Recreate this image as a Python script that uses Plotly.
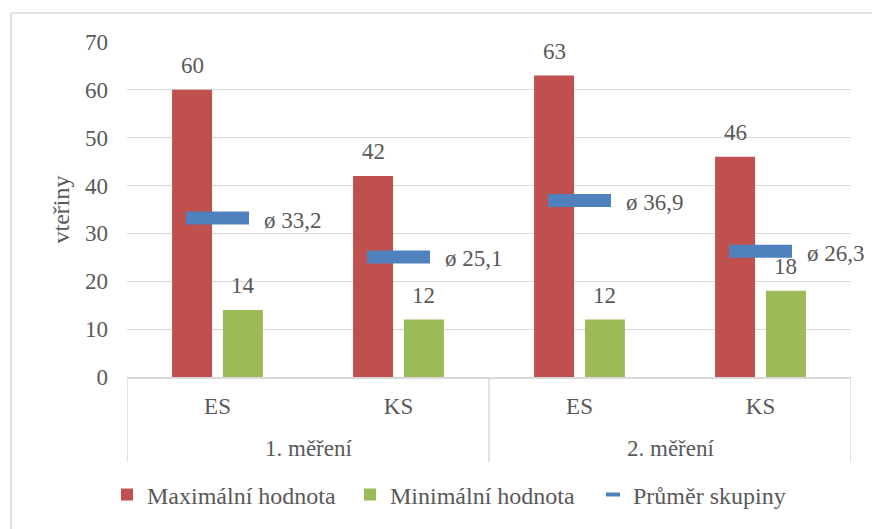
import plotly.graph_objects as go

# Data
groups = ["1. měření", "2. měření"]
categories = ["ES", "KS", "ES", "KS"]
max_values = [60, 42, 63, 46]
min_values = [14, 12, 12, 18]
group_means = [33.2, 25.1, 36.9, 26.3]
y_ticks = [0, 10, 20, 30, 40, 50, 60, 70]

# Canvas / plot-area geometry (pixels)
W, H = 872, 529
L, R, T, B = 127, 21, 42, 152
PW, PH = W - L - R, H - T - B

FONT = "Liberation Serif"
TXT = "#595959"
GRID = "#D9D9D9"
RED = "#C0504D"
GREEN = "#9BBB59"
BLUE = "#4F81BD"

BAR_W = 0.221
RED_OFF = -0.251
GREEN_OFF = 0.030


def px_x(p):
    return (p - L) / PW


def px_y(p):
    return (H - B - p) / PH


def fmt(v):
    return ("%g" % v).replace(".", ",")


xs = list(range(len(categories)))

fig = go.Figure()
fig.add_trace(go.Bar(
    x=xs, y=max_values, name="Maximální hodnota",
    marker=dict(color=RED, line=dict(width=0)),
    width=BAR_W, offset=RED_OFF,
))
fig.add_trace(go.Bar(
    x=xs, y=min_values, name="Minimální hodnota",
    marker=dict(color=GREEN, line=dict(width=0)),
    width=BAR_W, offset=GREEN_OFF,
))
# group means drawn as short horizontal dashes
fig.add_trace(go.Scatter(
    x=xs, y=group_means, name="Průměr skupiny", mode="markers",
    showlegend=False, legendgroup="mean",
    marker=dict(symbol="line-ew", size=45, color=BLUE,
                line=dict(color=BLUE, width=13)),
))
# slimmer key for the legend
fig.add_trace(go.Scatter(
    x=[None], y=[None], name="Průměr skupiny", mode="markers",
    legendgroup="mean",
    marker=dict(symbol="line-ew", size=10, color=BLUE,
                line=dict(color=BLUE, width=4)),
))

annotations = []
# value labels above the bars
for i in xs:
    for vals, off in ((max_values, RED_OFF), (min_values, GREEN_OFF)):
        annotations.append(dict(
            x=i + off + BAR_W / 2, y=vals[i], xref="x", yref="y",
            text=fmt(vals[i]), showarrow=False, yanchor="bottom",
            yshift=10, font=dict(family=FONT, size=23, color=TXT),
        ))
    # mean labels to the right of the mean markers
    annotations.append(dict(
        x=i + 0.251, y=group_means[i], xref="x", yref="y",
        text="ø " + fmt(group_means[i]), showarrow=False,
        xanchor="left", yanchor="middle", yshift=-2, borderpad=0,
        font=dict(family=FONT, size=23, color=TXT),
    ))

# group labels below the category labels
for g, name in enumerate(groups):
    annotations.append(dict(
        x=2 * g + 0.5, y=px_y(448), xref="x", yref="paper",
        text=name, showarrow=False, xanchor="center", yanchor="middle",
        font=dict(family=FONT, size=23, color=TXT),
    ))

# y-axis title
annotations.append(dict(
    x=px_x(60), y=0.5, xref="paper", yref="paper", text="vteřiny",
    textangle=-90, showarrow=False, xanchor="center", yanchor="middle",
    font=dict(family=FONT, size=24, color=TXT),
))

shapes = []
# dividers of the two-level category axis
for xv in (-0.5, 1.5, 3.5):
    shapes.append(dict(type="line", xref="x", yref="paper",
                       x0=xv, x1=xv, y0=0, y1=px_y(462),
                       line=dict(color=GRID, width=1.5)))
# chart-area border (left and top edges)
shapes.append(dict(type="line", xref="paper", yref="paper",
                   x0=px_x(11), x1=px_x(11), y0=px_y(13), y1=px_y(H + 5),
                   line=dict(color=GRID, width=1.5)))
shapes.append(dict(type="line", xref="paper", yref="paper",
                   x0=px_x(11), x1=px_x(W + 5), y0=px_y(13), y1=px_y(13),
                   line=dict(color=GRID, width=1.5)))

fig.update_layout(
    width=W, height=H,
    margin=dict(l=L, r=R, t=T, b=B, autoexpand=False),
    paper_bgcolor="white", plot_bgcolor="white",
    barmode="overlay",
    font=dict(family=FONT, size=23, color=TXT),
    showlegend=True,
    legend=dict(orientation="h", x=px_x(107), xanchor="left",
                y=px_y(495), yanchor="middle",
                font=dict(family=FONT, size=24, color=TXT),
                itemwidth=30, tracegroupgap=0,
                entrywidth=198, entrywidthmode="pixels"),
    annotations=annotations,
    shapes=shapes,
    xaxis=dict(range=[-0.5, 3.5], tickvals=xs, ticktext=categories,
               showgrid=False, zeroline=False, showline=True,
               linecolor=GRID, linewidth=1.5, ticks="",
               ticklabelstandoff=8,
               tickfont=dict(family=FONT, size=23, color=TXT)),
    yaxis=dict(range=[0, 70], tickvals=y_ticks, showgrid=True,
               gridcolor=GRID, gridwidth=1.3, zeroline=False,
               showline=False, ticks="", ticklabelstandoff=18,
               tickfont=dict(family=FONT, size=23, color=TXT)),
)

fig.write_html("out.html")
